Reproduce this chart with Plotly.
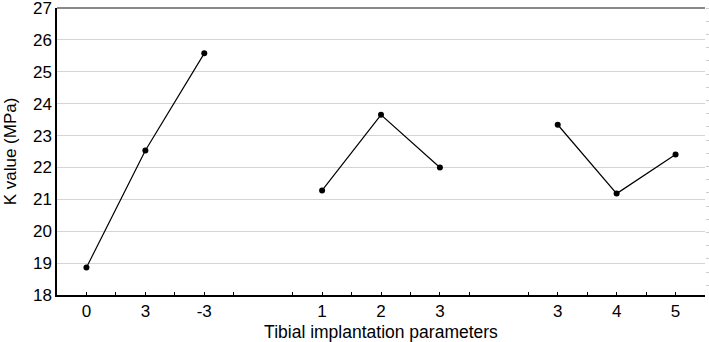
import plotly.graph_objects as go

# Data
group1_labels = ["0", "3", "-3"]
group1_values = [18.86, 22.53, 25.58]
group2_labels = ["1", "2", "3"]
group2_values = [21.28, 23.65, 22.0]
group3_labels = ["3", "4", "5"]
group3_values = [23.34, 21.18, 22.41]

y_ticks = [18, 19, 20, 21, 22, 23, 24, 25, 26, 27]

groups = [(group1_labels, group1_values, 0), (group2_labels, group2_values, 4), (group3_labels, group3_values, 8)]

fig = go.Figure()
tickvals, ticktext = [], []
for labels, values, start in groups:
    xs = [start + i for i in range(len(labels))]
    tickvals += xs
    ticktext += labels
    fig.add_trace(go.Scatter(
        x=xs, y=values, mode="lines+markers",
        line=dict(color="black", width=1.2),
        marker=dict(color="black", size=6),
        showlegend=False, hoverinfo="skip"))

# faint right-axis trace (invisible) to show y2 ticks
fig.add_trace(go.Scatter(x=[None], y=[None], yaxis="y2", showlegend=False))

font = "Liberation Sans, Arial, sans-serif"
fig.update_layout(
    width=709, height=342,
    margin=dict(l=57, r=4, t=8, b=47, autoexpand=False),
    plot_bgcolor="white", paper_bgcolor="white",
    font=dict(family=font, color="black", size=17),
    xaxis=dict(
        range=[-0.5, 10.5], tickvals=tickvals, ticktext=ticktext,
        showgrid=False, zeroline=False,
        showline=True, linecolor="black", linewidth=1.5,
        ticks="inside", ticklen=3, tickcolor="black",
        minor=dict(tick0=0.5, dtick=1, ticks="inside", ticklen=3, tickcolor="black"),
        tickfont=dict(size=17, family=font),
        automargin=False,
        title=dict(text="Tibial implantation parameters", font=dict(size=17.5, family=font), standoff=7),
    ),
    yaxis=dict(
        range=[17.999, 27.002], tickvals=y_ticks,
        showgrid=True, gridcolor="#d4d4d4", gridwidth=1,
        zeroline=False, showline=True, linecolor="black", linewidth=1.5,
        ticks="", tickfont=dict(size=17, family=font),
        ticklabeloverflow="allow",
        automargin=False,
        title=dict(text="K value (MPa)", font=dict(size=17, family=font), standoff=12),
    ),
    yaxis2=dict(
        overlaying="y", side="right", range=[17.999, 27.002],
        tick0=27, dtick=0.414, ticks="outside", ticklen=3, tickcolor="#cccccc",
        showticklabels=False, showgrid=False, zeroline=False, showline=False,
        automargin=False,
    ),
    shapes=[dict(type="line", xref="paper", yref="paper", x0=0, x1=1, y0=1, y1=1,
                 line=dict(color="#888888", width=2))],
)

fig.write_html("out.html", config={"displayModeBar": False},
               post_script="document.body.style.margin='0';document.body.style.overflow='hidden';")
